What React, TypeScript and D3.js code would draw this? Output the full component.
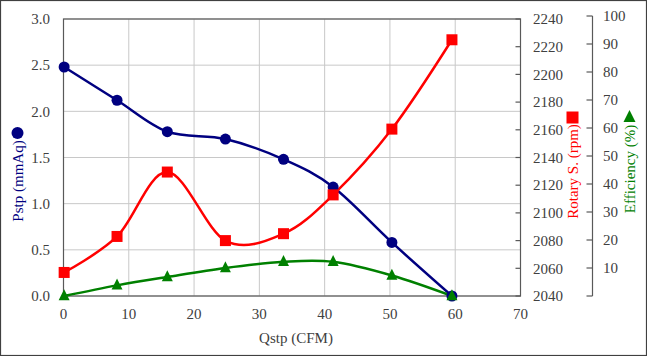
import React from "react";
import * as d3 from "d3";

const qstp = [0.1, 8.2, 15.9, 24.8, 33.7, 41.3, 50.3, 59.5];
const pstp = [2.48, 2.12, 1.78, 1.7, 1.48, 1.18, 0.58, 0.0];
const rotary = [2057, 2083, 2129.5, 2080, 2085, 2113, 2160.5, 2225];
const efficiency = [0, 3.8, 6.8, 10, 12.2, 12.2, 7.3, 0];

const xTicks = [0, 10, 20, 30, 40, 50, 60, 70];
const pTicks = [0, 0.5, 1.0, 1.5, 2.0, 2.5, 3.0];
const rTicks = [2040, 2060, 2080, 2100, 2120, 2140, 2160, 2180, 2200, 2220, 2240];
const eTicks = [0, 10, 20, 30, 40, 50, 60, 70, 80, 90, 100];

const W = 647;
const H = 356;
const L = 63.5;
const R = 520.5;
const T = 19;
const B = 296;
const font = "'Liberation Serif', 'Times New Roman', serif";
const NAVY = "#000080";
const RED = "#ff0000";
const GREEN = "#008000";
const AXIS = "#595959";
const TXT = "#404040";

export default function App() {
  const x = d3.scaleLinear().domain([0, 70]).range([L, R]);
  const yP = d3.scaleLinear().domain([0, 3]).range([B, T]);
  const yR = d3.scaleLinear().domain([2040, 2240]).range([B, T]);
  const yE = d3.scaleLinear().domain([0, 100]).range([B, 16]);
  const curve = d3.curveCatmullRom.alpha(0);

  const lineP = d3.line<number>().x((_, i) => x(qstp[i])).y((d) => yP(d)).curve(curve);
  const lineR = d3.line<number>().x((_, i) => x(qstp[i])).y((d) => yR(d)).curve(curve);
  const lineE = d3.line<number>().x((_, i) => x(qstp[i])).y((d) => yE(d)).curve(curve);

  const tri = (cx: number, cy: number, s: number) =>
    `M${cx},${cy - s * 0.62}L${cx + s / 2},${cy + s * 0.38}L${cx - s / 2},${cy + s * 0.38}Z`;

  const eAxisX = 592.5;

  return (
    <svg
      width={W}
      height={H}
      style={{ position: "absolute", left: 0, top: 0, background: "#fff" }}
      fontFamily={font}
    >
      <rect x={0.5} y={0.5} width={W - 1} height={H - 1} fill="#fff" stroke="#404040" strokeWidth={1.2} />
      {/* grid */}
      {pTicks.map((t) => (
        <line key={"gp" + t} x1={L} x2={R} y1={yP(t)} y2={yP(t)} stroke="#c8c8c8" strokeWidth={1} />
      ))}
      {xTicks.map((t) => (
        <line key={"gx" + t} x1={x(t)} x2={x(t)} y1={T} y2={B} stroke="#c8c8c8" strokeWidth={1} />
      ))}
      {/* plot border */}
      <rect x={L} y={T} width={R - L} height={B - T} fill="none" stroke={AXIS} strokeWidth={1.2} />
      {/* left labels */}
      {pTicks.map((t) => (
        <text key={"lp" + t} x={50} y={yP(t)} dy="0.35em" textAnchor="end" fontSize={15} fill={TXT}>
          {t.toFixed(1)}
        </text>
      ))}
      {/* x labels */}
      {xTicks.map((t) => (
        <text key={"lx" + t} x={x(t)} y={314} dy="0.35em" textAnchor="middle" fontSize={15} fill={TXT}>
          {t}
        </text>
      ))}
      {/* rpm ticks */}
      {rTicks.map((t) => (
        <g key={"rt" + t}>
          <line x1={R - 5} x2={R} y1={yR(t)} y2={yR(t)} stroke={AXIS} strokeWidth={1.2} />
          <text x={533} y={yR(t)} dy="0.35em" textAnchor="start" fontSize={15} fill={TXT}>
            {t}
          </text>
        </g>
      ))}
      {/* efficiency axis */}
      <line x1={eAxisX} x2={eAxisX} y1={yE(100)} y2={yE(0)} stroke={AXIS} strokeWidth={1.2} />
      {eTicks.map((t) => (
        <g key={"et" + t}>
          <line x1={eAxisX - 6} x2={eAxisX} y1={yE(t)} y2={yE(t)} stroke={AXIS} strokeWidth={1.2} />
          {t > 0 && (
            <text x={603} y={yE(t)} dy="0.35em" textAnchor="start" fontSize={15} fill={TXT}>
              {t}
            </text>
          )}
        </g>
      ))}
      {/* lines */}
      <path d={lineP(pstp) || ""} fill="none" stroke={NAVY} strokeWidth={2.5} />
      <path d={lineR(rotary) || ""} fill="none" stroke={RED} strokeWidth={2.5} />
      <path d={lineE(efficiency) || ""} fill="none" stroke={GREEN} strokeWidth={2.5} />
      {/* markers */}
      {pstp.map((d, i) => (
        <circle key={"mp" + i} cx={x(qstp[i])} cy={yP(d)} r={5.5} fill={NAVY} />
      ))}
      {rotary.map((d, i) => (
        <rect key={"mr" + i} x={x(qstp[i]) - 5.5} y={yR(d) - 5.5} width={11} height={11} fill={RED} />
      ))}
      {efficiency.map((d, i) => (
        <path key={"me" + i} d={tri(x(qstp[i]), yE(d), 11)} fill={GREEN} />
      ))}
      {/* axis titles */}
      <text x={296} y={338} dy="0.35em" textAnchor="middle" fontSize={15} fill={TXT}>
        Qstp (CFM)
      </text>
      <text
        transform={`translate(18,181) rotate(-90)`}
        textAnchor="middle"
        dy="0.35em"
        fontSize={15}
        fill={NAVY}
      >
        Pstp (mmAq)
      </text>
      <circle cx={17.5} cy={133} r={6} fill={NAVY} />
      <text
        transform={`translate(573,171.5) rotate(-90)`}
        textAnchor="middle"
        dy="0.35em"
        fontSize={15}
        fill={RED}
      >
        Rotary S. (rpm)
      </text>
      <rect x={566.5} y={111.5} width={12} height={12} fill={RED} />
      <text
        transform={`translate(629.5,169) rotate(-90)`}
        textAnchor="middle"
        dy="0.35em"
        fontSize={15}
        fill={GREEN}
      >
        Efficiency (%)
      </text>
      <path d={tri(629.5, 117.5, 12)} fill={GREEN} />
    </svg>
  );
}
